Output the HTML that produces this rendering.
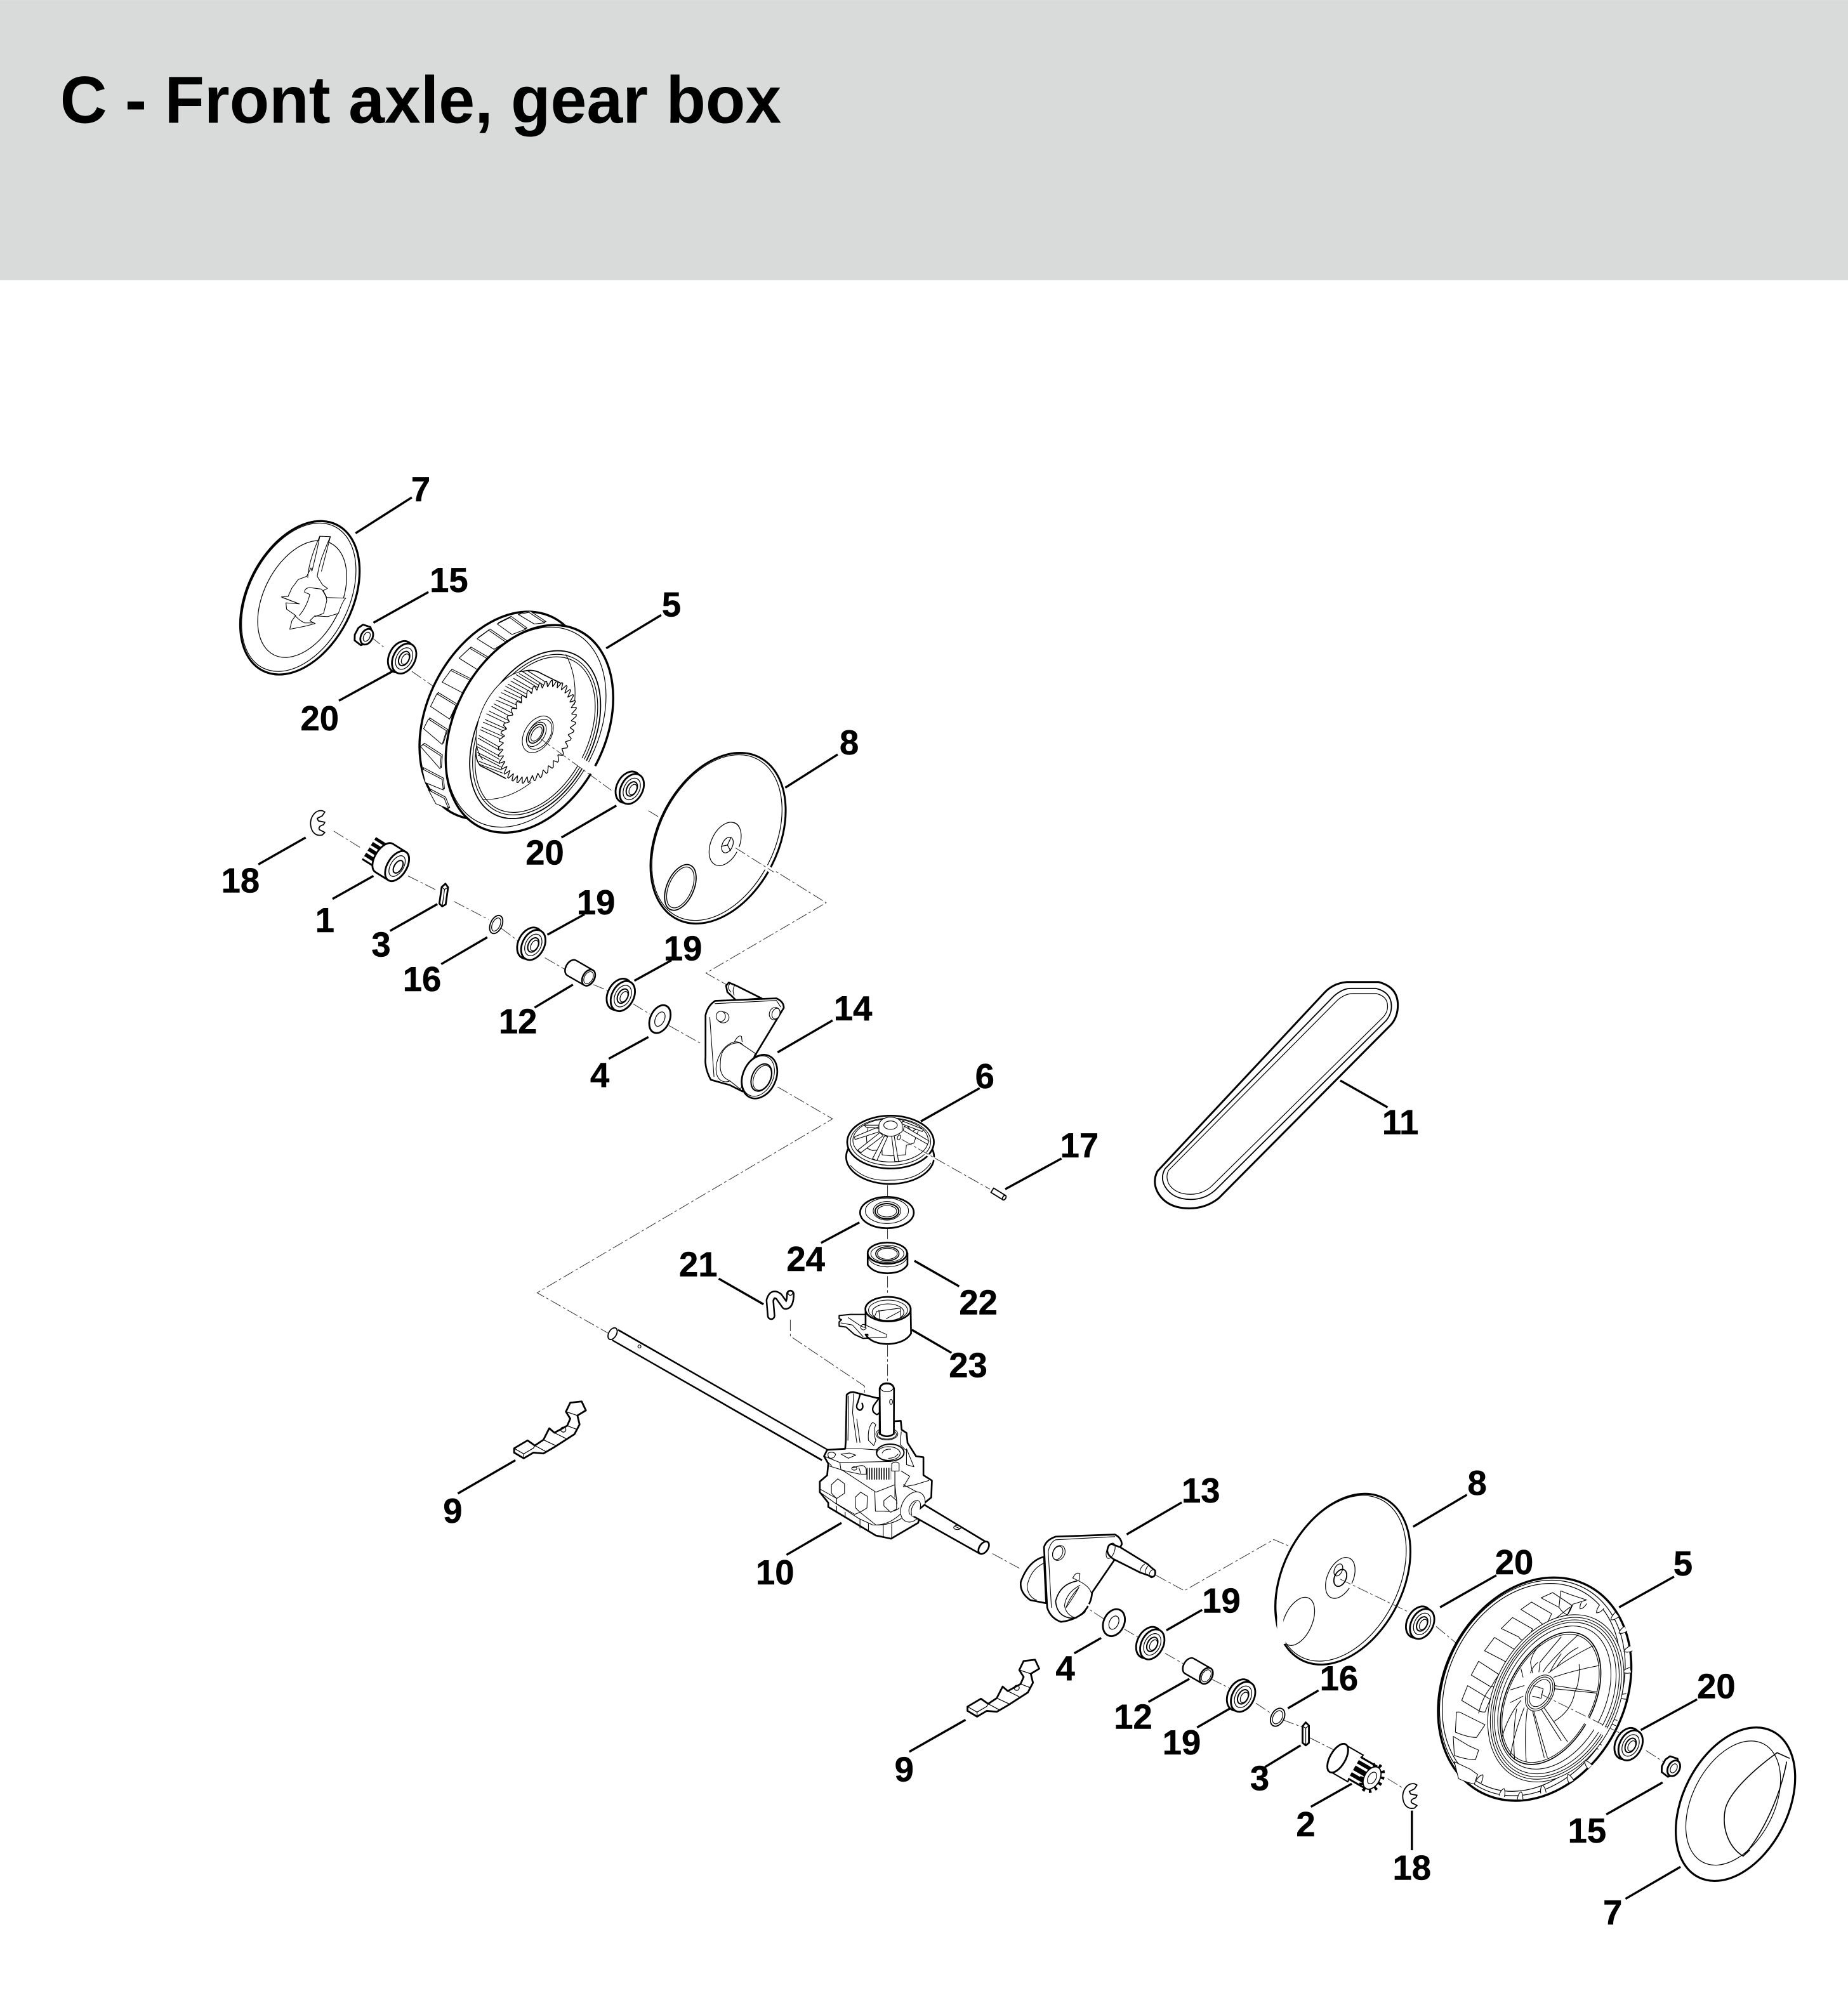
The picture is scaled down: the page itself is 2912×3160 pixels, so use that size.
<!DOCTYPE html>
<html lang="en"><head><meta charset="utf-8"><title>C - Front axle, gear box</title>
<style>
html,body{margin:0;padding:0;background:#fff}
svg{display:block}
.o{fill:#fff;stroke:#000;stroke-width:1.4;stroke-linejoin:round;stroke-linecap:round}
.n{fill:none;stroke:#000;stroke-width:1.4;stroke-linejoin:round;stroke-linecap:round}
.t{fill:none;stroke:#000;stroke-width:.6;stroke-linejoin:round;stroke-linecap:round}
.tw{fill:#fff;stroke:#000;stroke-width:.6;stroke-linejoin:round}
.l{fill:none;stroke:#000;stroke-width:1.7}
.d{fill:none;stroke:#333;stroke-width:.5;stroke-dasharray:9 2 2 2}
.zo{fill:#fff;stroke:#000;stroke-width:8;stroke-linejoin:round;stroke-linecap:round}
.zn{fill:none;stroke:#000;stroke-width:7;stroke-linejoin:round;stroke-linecap:round}
.zt{fill:none;stroke:#000;stroke-width:3.2;stroke-linejoin:round;stroke-linecap:round}
.zw{fill:#fff;stroke:#000;stroke-width:3.2;stroke-linejoin:round;stroke-linecap:round}
.tooth{fill:#fff;stroke:#000;stroke-width:1.3;vector-effect:non-scaling-stroke;stroke-linejoin:round}
text.b{font-family:"Liberation Sans",sans-serif;font-weight:700;font-size:27px;text-anchor:middle;fill:#000;stroke:#000;stroke-width:.25}
</style></head><body>
<svg xmlns="http://www.w3.org/2000/svg" width="2912" height="3160" viewBox="0 0 1445 1568">
<defs>
<g id="brg"><ellipse class="o" cx="-3" rx="9" ry="13"/><ellipse class="o" rx="8.5" ry="12.5"/><ellipse class="t" rx="6" ry="9"/><ellipse class="n" style="stroke-width:1" rx="3.8" ry="6"/><ellipse class="t" cx="1" rx="2.6" ry="4.4"/></g>
<g id="nut"><path class="o" d="M-5 -7L1 -8 4 -5 4 5 1 8 -5 7 -7 3 -7 -3Z"/><ellipse class="o" cx="2" rx="4.5" ry="6.5"/><ellipse class="t" cx="2" rx="2.4" ry="3.8"/></g>
<g id="clip"><path class="t" style="stroke-width:.9" d="M3 -10C-3 -11 -7 -4 -6 2C-5 8 -1 10 3 9L5 7 1 5C0 4 0 2 4 1L5 -1 0 -2 -1 -4 3 -6 5 -9Z"/></g>
<g id="key"><path class="o" d="M-2.5 -6L0 -9 2.5 -6.5 2.5 7 0 9 -2.5 7Z"/><path class="t" d="M-2.5 -6L0 -4.5 2.5 -6.5M0 -4.5L0 9"/></g>
<g id="bush"><path class="o" d="M-9 -8L8 -8A5 8 0 0 1 8 8L-9 8A5 8 0 0 1 -9 -8Z"/><ellipse class="o" cx="8" rx="5" ry="8"/><ellipse class="t" cx="8" rx="3.6" ry="6"/></g>
<g id="lever"><path class="o" d="M756.5 1334.7L756.5 1338 764 1342.5 771.6 1338 779.4 1338.7 788.2 1333.6 803.7 1323.6 807.7 1316 806 1309 812.6 1305 809.3 1298 800.4 1299 797 1306 800.4 1311.5 798 1317 788 1322.5 784 1319 779.4 1328 772.7 1332.5 767 1328.5Z"/><path class="t" d="M756.5 1334.7L764 1339 764 1342.5M764 1339L771.6 1334.5 772.7 1332.5M772.7 1332.5L781 1337M779.4 1328L790 1333M788 1322.5L797 1327M798 1317L806 1320M797 1306L806 1309"/><circle class="t" cx="795" cy="1320" r="2"/></g>
<path id="sc" d="M-12 -18Q-10 10 0 20Q14 10 14 -18" fill="#fff" stroke="#000" stroke-width="3.2"/>
<path id="tt" class="tooth" d="M.927 -.073L1.06 -.018 1.06 .018 .927 .073"/>
<g id="blk">
<path d="M500 55L550 45 625 95 575 100ZM400 100L460 70 535 125 470 150ZM305 170L360 130 440 185 385 220ZM220 262L270 215 355 265 305 315ZM140 375L180 320 270 365 235 425ZM85 490L115 430 205 485 175 550ZM52 595L75 550 160 605 140 670ZM38 680L50 670 135 725 130 785ZM45 785L140 835 145 885 60 850ZM75 885L150 925 170 975 110 950Z"/>
</g>
</defs>
<rect width="1445" height="1568" fill="#fff"/>
<rect width="1445" height="219" fill="#d9dbda"/>
<text x="47" y="96" font-family="Liberation Sans,sans-serif" font-weight="700" font-size="52" textLength="564" lengthAdjust="spacingAndGlyphs" fill="#000">C - Front axle, gear box</text>

<!-- construction lines under parts -->
<path class="d" d="M290 498L300 506M322 525L345 541M507 634L520 642"/>
<path class="d" d="M572 660L646 706 552 761 568 770"/>
<path class="d" d="M261 650L282 663M319 685L341 696M355 705L382 719M392 726L408 738M426 749L445 760M464 770L476 775M495 785L508 793M523 802L548 816"/>
<path class="d" d="M608 850L651 875 420 1011 478 1044"/>
<path class="d" d="M694 927L694 937M694 960L694 970M694 998L694 1012M694 1052L694 1084"/>
<path class="d" d="M618 1032L618 1045 676 1084 676 1112"/>
<path class="d" d="M776 1215L798 1227M904 1232L926 1244 996 1204 1010 1210"/>
<path class="d" d="M843 1253L863 1266M879 1274L891 1281M911 1293L925 1301M947 1313L961 1320M982 1332L994 1340M1003 1345L1019 1351M1024 1359L1048 1371M1085 1391L1098 1399"/>

<!-- cap 7 top -->
<g transform="translate(234.5 467.5) rotate(27)">
<ellipse class="o" rx="41" ry="64" style="stroke-width:1.6"/><ellipse class="t" cx="-1" rx="39" ry="62"/><ellipse class="t" cx="2" rx="30" ry="49"/>
</g>
<g transform="translate(178.6 397) scale(.1654)">
<path class="zw" d="M432 135L482 137Q465 175 440 240 425 290 420 325L445 365 468 382 448 392 465 425 555 428Q540 440 520 500L470 515 408 512 385 535 410 548 365 560 290 575 300 535 318 510 275 480 272 450 335 455 250 422 282 420 300 380 330 340 370 325 390 285 395 300Q420 200 432 135Z"/>
<path class="zt" d="M335 510Q370 470 385 410L360 400Q360 380 385 378L440 385Q465 420 465 440L450 500 410 515M315 510Q330 530 360 545L400 545M432 135Q380 250 375 330M482 137L440 300M255 425L335 455"/>
</g>

<use href="#nut" transform="translate(285 497) rotate(28)"/>
<use href="#brg" transform="translate(316 515) rotate(28)"/>

<!-- wheel 5 top -->
<g transform="translate(414 570) rotate(27)"><ellipse class="o" cx="-23" rx="59" ry="86" style="stroke-width:1.7"/></g>
<g transform="translate(322.6 471.4) scale(.1654)">
<use href="#blk" transform="translate(6 -6)" fill="#fff" stroke="#000" stroke-width="3.2" stroke-linejoin="round"/>
<use href="#blk" fill="#fff" stroke="#000" stroke-width="3.2" stroke-linejoin="round"/>
</g>
<g transform="translate(414 570) rotate(27)">
<ellipse class="o" rx="59" ry="86" style="stroke-width:1.7"/>
<ellipse class="t" cx="-3" rx="56" ry="83"/>
<ellipse class="tw" style="stroke-width:.9" cx="6" cy="2" rx="45" ry="70"/>
<ellipse class="t" cx="6" cy="2" rx="43" ry="67"/>
<ellipse class="t" cx="6" cy="2" rx="41" ry="65"/>
</g>
<g transform="translate(322.6 471.4) scale(.1654)">
<path class="zt" d="M725 245Q780 350 765 480M330 930Q450 935 560 850"/>
<g transform="translate(474 550) rotate(27)"><ellipse class="zw" rx="150" ry="245"/></g>
<path d="M520 325L600 320 700 380 440 830 320 770Z" fill="#fff"/>
<path class="zt" d="M520 325L620 390M490 340L590 400M465 370L565 425M440 395L545 450M420 425L525 475M395 460L500 505M375 490L475 545M350 525L455 575M335 565L440 610M320 600L430 650M310 640L415 700M305 680L410 740M310 720L415 775M320 765L425 805"/>
<path class="zt" d="M545 322L640 382M505 335L605 395M478 358L578 415M452 385L555 440M432 412L535 462M408 445L510 492M385 478L488 530M362 512L465 562M343 552L447 598M327 588L435 635M315 628L420 688M307 668L411 725M307 708L412 760M315 750L420 790"/>
<path d="M300 690Q295 740 320 770L440 830" class="zn" style="stroke-width:5"/>
<path d="M520 325Q570 310 610 335L700 380" class="zn" style="stroke-width:5"/>
<g transform="translate(590 610) rotate(27) scale(150 245)">
<circle r=".94" fill="#fff"/>
<use href="#tt"/><use href="#tt" transform="rotate(9)"/><use href="#tt" transform="rotate(18)"/><use href="#tt" transform="rotate(27)"/><use href="#tt" transform="rotate(36)"/><use href="#tt" transform="rotate(45)"/><use href="#tt" transform="rotate(54)"/><use href="#tt" transform="rotate(63)"/><use href="#tt" transform="rotate(72)"/><use href="#tt" transform="rotate(81)"/><use href="#tt" transform="rotate(90)"/><use href="#tt" transform="rotate(99)"/><use href="#tt" transform="rotate(108)"/><use href="#tt" transform="rotate(117)"/><use href="#tt" transform="rotate(126)"/><use href="#tt" transform="rotate(135)"/><use href="#tt" transform="rotate(144)"/><use href="#tt" transform="rotate(153)"/><use href="#tt" transform="rotate(162)"/><use href="#tt" transform="rotate(171)"/><use href="#tt" transform="rotate(180)"/><use href="#tt" transform="rotate(189)"/><use href="#tt" transform="rotate(198)"/><use href="#tt" transform="rotate(207)"/><use href="#tt" transform="rotate(216)"/><use href="#tt" transform="rotate(225)"/><use href="#tt" transform="rotate(234)"/><use href="#tt" transform="rotate(243)"/><use href="#tt" transform="rotate(252)"/><use href="#tt" transform="rotate(261)"/><use href="#tt" transform="rotate(270)"/><use href="#tt" transform="rotate(279)"/><use href="#tt" transform="rotate(288)"/><use href="#tt" transform="rotate(297)"/><use href="#tt" transform="rotate(306)"/><use href="#tt" transform="rotate(315)"/><use href="#tt" transform="rotate(324)"/><use href="#tt" transform="rotate(333)"/><use href="#tt" transform="rotate(342)"/><use href="#tt" transform="rotate(351)"/>
</g>
<g transform="translate(592 622) rotate(33)">
<ellipse class="zw" rx="62" ry="95"/><ellipse class="zt" cx="6" cy="-4" rx="50" ry="78"/>
<ellipse class="zt" cx="-6" cy="4" rx="38" ry="64"/>
<ellipse class="zn" style="stroke-width:5" cx="-8" cy="2" rx="28" ry="50"/><ellipse class="zt" cx="-6" cy="2" rx="20" ry="38"/>
</g>
</g>
<path d="M452 595L480 612" stroke="#fff" stroke-width="7" fill="none"/>
<path class="d" d="M423 578L478 618"/>
<use href="#brg" transform="translate(494 617) rotate(28)"/>

<!-- plate 8 top -->
<g transform="translate(561.5 655.5) rotate(27)">
<ellipse class="o" rx="47" ry="71" style="stroke-width:1.5"/>
<ellipse class="t" cx="-1" rx="45" ry="69"/>
</g>
<g transform="translate(567 660) rotate(25)"><ellipse class="t" rx="11" ry="18"/><path class="t" d="M-1 -18A11 18 0 0 1 4 -17"/><ellipse class="t" cx="2" rx="4" ry="6.5"/><path class="t" d="M2 -6.5L2 0 6 3M2 0L-2 3"/></g>
<g transform="translate(532 694) rotate(24)"><ellipse class="t" style="stroke-width:.9" rx="10.5" ry="19"/><ellipse class="t" rx="9" ry="17"/></g>
<path d="M575 663L605 682" stroke="#fff" stroke-width="4" fill="none"/>
<path class="d" d="M575 663L605 682"/>

<!-- small parts top axis -->
<use href="#clip" transform="translate(249 644)"/>
<g transform="translate(302 672) rotate(32)">
<line x1="-16" x2="-2" y1="0" y2="0" stroke="#000" stroke-width="21"/>
<path fill="none" stroke="#fff" stroke-width="2" d="M-16 -7L-2 -7M-16 -2L-2 -2M-16 3L-2 3M-16 8L-2 8"/>
<path class="o" d="M-2 -13L10 -13A7.5 13 0 0 1 10 13L-2 13A7 13 0 0 1 -2 -13Z"/>
<ellipse class="o" cx="10" rx="7.5" ry="13"/><ellipse class="t" cx="10" rx="5" ry="9"/><ellipse class="n" style="stroke-width:1" cx="11" rx="3" ry="5.5"/>
</g>
<use href="#key" transform="translate(347 700) rotate(8)"/>
<ellipse class="t" style="stroke-width:.9" cx="388" cy="723" rx="4.5" ry="7.5" transform="rotate(25 388 723)"/>
<ellipse class="t" cx="388" cy="723" rx="3" ry="5.5" transform="rotate(25 388 723)"/>
<use href="#brg" transform="translate(417 739) rotate(28)"/>
<use href="#bush" transform="translate(454 761) rotate(30) scale(.9 .85)"/>
<use href="#brg" transform="translate(487 779) rotate(28)"/>
<g transform="translate(516 797) rotate(25)"><ellipse class="o" rx="7.5" ry="11.5"/><ellipse class="t" rx="3.5" ry="6"/></g>

<!-- bracket 14 -->
<g transform="translate(531 754.3) scale(.1654)">
<path class="zo" d="M222 100L235 85 270 100 390 160 270 170 250 150 228 130Z"/>
<path class="zt" d="M240 90Q225 110 245 130M262 100Q250 120 260 145"/>
<path class="zo" d="M125 240Q135 195 170 172L460 160Q495 175 495 205L365 420 300 600 240 570 150 545Q120 490 125 440Z"/>
<path class="zt" d="M170 185L460 170 480 200M145 250L165 530"/>
<ellipse class="zw" cx="208" cy="250" rx="28" ry="26"/><ellipse class="zw" cx="197" cy="245" rx="22" ry="24"/>
<ellipse class="zw" cx="452" cy="232" rx="25" ry="30" transform="rotate(20 452 232)"/><ellipse class="zt" cx="458" cy="232" rx="18" ry="26" transform="rotate(20 458 232)"/>
<path class="zt" d="M262 365Q280 330 295 340L298 365"/>
<ellipse class="zt" cx="245" cy="460" rx="62" ry="100" transform="rotate(25 245 460)"/>
<path class="zw" d="M215 400Q240 370 285 370L360 420 290 590 240 550Q190 530 195 470 195 420 215 400Z"/>
<g transform="translate(380 530) rotate(25)"><ellipse class="zo" rx="78" ry="108"/><ellipse class="zt" cx="-6" rx="70" ry="100"/><ellipse class="zn" style="stroke-width:6" cx="10" rx="44" ry="68"/><ellipse class="zt" cx="14" rx="38" ry="62"/></g>
</g>

<!-- pulley 6 and parts -->
<g transform="translate(640.1 863.4) scale(.1654)">
<ellipse class="zo" cx="338" cy="250" rx="208" ry="128"/>
<path class="zt" d="M150 290Q220 368 340 360 470 362 530 280"/>
<ellipse class="zo" cx="340" cy="180" rx="205" ry="125"/>
<ellipse class="zt" cx="340" cy="178" rx="190" ry="112"/>
<ellipse class="zt" cx="340" cy="172" rx="178" ry="102"/>
<path class="zt" d="M225 140L230 210 255 220 300 215 300 240 340 245 410 240 415 195 450 185M170 160L230 140 235 100M400 80L440 130 480 110M450 185L470 130"/>
<path class="zw" d="M290 105L170 155 172 168 290 130ZM290 135L185 218 200 230 305 150ZM312 150L255 258 275 268 326 155ZM345 150L360 272 378 272 357 150ZM400 125L515 190 522 175 405 105ZM395 95L490 130 495 120 395 80ZM290 100L215 100 225 110 290 115Z"/>
<path class="zw" d="M285 100A55 38 0 0 1 395 100L395 130Q340 175 285 130Z"/>
<ellipse class="zt" cx="340" cy="100" rx="32" ry="20"/>
<ellipse class="zt" cx="380" cy="158" rx="7" ry="12" transform="rotate(20 380 158)"/>
<path d="M498 230L552 262" stroke="#fff" stroke-width="12" fill="none"/>
<ellipse class="zo" cx="323" cy="513" rx="127" ry="74"/><ellipse class="zt" cx="323" cy="505" rx="102" ry="60"/><ellipse class="zt" cx="323" cy="505" rx="65" ry="44"/><ellipse class="zn" style="stroke-width:6" cx="323" cy="507" rx="56" ry="36"/><ellipse class="zt" cx="323" cy="507" rx="46" ry="27"/>
<path class="zo" d="M232 705L232 760Q260 800 325 800 395 800 420 760L420 705Z"/>
<ellipse class="zo" cx="325" cy="705" rx="93" ry="50"/><ellipse class="zt" cx="325" cy="708" rx="78" ry="40"/><ellipse class="zn" style="stroke-width:5" cx="325" cy="708" rx="55" ry="33"/><ellipse class="zt" cx="325" cy="708" rx="47" ry="26"/>
<path class="zt" d="M232 722Q250 768 325 770 400 768 420 725"/>
<path class="zo" d="M97 1000L150 995 222 995 225 1045 322 1090 322 1102 210 1108 170 1090 130 1055 97 1050 97 1030 108 1020 97 1015Z" style="stroke-width:6"/>
<path class="zt" d="M140 1010L200 1050 320 1095M105 1035L160 1045 210 1100"/>
<circle class="zt" cx="212" cy="1055" r="13"/>
<path class="zo" d="M222 965L222 1050 300 1092 222 1090Q250 1135 330 1135 410 1130 437 1085L435 965Z"/>
<path class="zo" d="M222 1045L322 1090 322 1102 240 1106" style="stroke-width:3.2"/>
<ellipse class="zo" cx="328" cy="970" rx="107" ry="58"/><ellipse class="zt" cx="328" cy="975" rx="92" ry="48"/><ellipse class="zt" cx="328" cy="985" rx="75" ry="40"/>
<path class="zt" d="M262 1010L275 980 385 965 390 1010 350 1025 290 1025ZM285 975L290 1025M385 980L320 1015"/>
</g>
<path class="d" d="M705 891L774 930"/>
<g transform="translate(781 934) rotate(32)"><rect x="-6" y="-2" width="11" height="4" class="o" style="stroke-width:.9"/><ellipse class="o" style="stroke-width:.9" cx="5" rx="1.2" ry="2"/></g>

<!-- hose 21 -->
<path fill="none" stroke="#000" stroke-width="6.5" stroke-linecap="round" stroke-linejoin="round" d="M603 1029L602 1017Q604 1010 609 1014L614 1021Q618 1021 618 1012"/>
<path fill="none" stroke="#fff" stroke-width="4" stroke-linecap="round" stroke-linejoin="round" d="M603 1029L602 1017Q604 1010 609 1014L614 1021Q618 1021 618 1012"/>
<ellipse class="t" cx="618" cy="1011" rx="1.8" ry="2"/>

<!-- belt 11 -->
<path class="o" style="stroke-width:1.5" d="M1035 777Q1042 769 1053 768L1078 768Q1093 772 1093 786Q1093 795 1088 801L953 937Q943 945 930 945Q912 945 905 932Q901 924 905 916Z"/>
<path class="t" style="stroke-width:.9" d="M1043 779Q1050 773 1056 773L1076 773Q1088 776 1088 787Q1088 793 1084 798L950 931Q942 938 931 938Q917 938 911 928Q907 921 911 914Z"/>
<path class="t" d="M1046 782Q1052 777 1058 777L1076 777Q1085 779 1085 787Q1085 792 1081 796L947 928Q940 934 931 934Q919 934 914 926Q911 920 914 915Z"/>

<!-- main shaft -->
<line x1="481" y1="1044" x2="645" y2="1138" stroke="#000" stroke-width="10.5"/>
<line x1="480" y1="1043.5" x2="647" y2="1139" stroke="#fff" stroke-width="8"/>
<ellipse class="o" style="stroke-width:.9" cx="479" cy="1043" rx="3" ry="5" transform="rotate(30 479 1043)"/>
<circle cx="500" cy="1053" r="1.2" class="t"/>

<!-- gearbox -->
<g transform="translate(625.3 1076.8) scale(.1654)">
<path class="zo" d="M222 85Q235 70 255 72L365 100 378 100 378 270 445 250 445 210 478 208 482 250 505 265 510 312 550 375 585 380 585 465 625 490 622 570 585 600 560 690 432 765 360 750 135 615 135 595 95 545 95 495 130 465 135 410 115 375 130 345 215 340 218 300Z"/>
<path class="zt" d="M232 90L228 300M250 170L270 310M250 170L255 80M285 310L270 200"/>
<path class="zn" d="M285 85L275 120Q260 150 285 158 305 150 295 125M372 105L350 135Q335 165 365 178 385 170 378 150"/>
<ellipse class="zt" cx="412" cy="270" rx="52" ry="28"/><ellipse class="zt" cx="412" cy="272" rx="45" ry="22"/>
<path class="zw" d="M345 215Q320 240 325 300L350 325 360 300Q345 260 360 225Z"/>
<path class="zt" d="M115 375L190 405 430 400M215 340L290 340 360 345 400 320M195 365L230 385 265 370 235 360ZM135 420L200 440 360 545 450 510 450 410M190 405L195 440 285 460M355 545L358 635 400 635Q450 640 470 620M450 510L460 600M130 400L150 420M135 360Q155 350 170 365 165 385 145 385 130 380 135 360Z"/>
<ellipse class="zn" style="stroke-width:6" cx="428" cy="358" rx="65" ry="40"/><ellipse class="zt" cx="420" cy="362" rx="55" ry="32"/><path class="zt" d="M390 360Q400 340 430 342M420 385Q450 385 465 365"/>
<path class="zw" d="M435 410Q455 395 470 410L470 445 435 445Z"/>
<path class="zt" d="M450 445L450 570"/>
<line x1="316" y1="458" x2="432" y2="458" stroke="#000" stroke-width="55" stroke-dasharray="4.5 7"/>
<path class="zt" d="M285 420Q310 415 315 440L315 460 290 460 280 430M250 430L285 420"/>
<ellipse class="zt" cx="258" cy="433" rx="12" ry="8"/>
<path class="zw" d="M150 510L180 482 212 505 212 550 175 575 150 550ZM262 570L288 545 320 565 318 620 285 640 265 620ZM398 585L430 560 458 585 458 625 430 640 398 610Z"/>
<path class="zt" d="M95 530L175 575 175 600 260 650 285 640 360 700Q420 700 475 650M95 545L165 595 280 670 345 700Q420 705 480 670M175 612L175 640M215 640L215 665M285 675L285 715M325 695L325 730M395 700L395 760M435 695L435 765M505 340L540 425 505 415ZM480 260L475 320 500 345M480 445L520 470 490 520 545 510 610 490M490 510L585 560"/>
<g transform="translate(535 615) rotate(28)"><ellipse class="zw" rx="52" ry="76"/><ellipse class="zt" cx="10" rx="24" ry="38"/></g>
<path class="zo" d="M590 605L880 780 850 835 530 655Z"/>
<ellipse cx="545" cy="630" rx="20" ry="32" transform="rotate(30 545 630)" fill="#fff"/>
<path class="zt" d="M530 655Q520 620 550 590"/>
<ellipse class="zo" cx="870" cy="808" rx="20" ry="33" transform="rotate(35 870 808)"/>
<ellipse class="zt" cx="745" cy="712" rx="17" ry="10"/><path class="zt" d="M732 706L758 718"/>
<path class="zo" d="M378 55Q385 30 412 30 440 30 446 55L445 270Q412 292 380 270Z"/>
<ellipse class="zt" cx="412" cy="52" rx="30" ry="18"/>
<ellipse class="zt" cx="432" cy="118" rx="7" ry="12"/>
</g>

<!-- levers -->
<use href="#lever" transform="translate(-354.5 -202)"/>
<use href="#lever"/>

<!-- bracket 13 -->
<g transform="translate(794 1176.1) scale(.1654)">
<path class="zo" d="M135 250Q60 270 25 370 20 420 70 455L145 470Z"/>
<path class="zt" d="M135 280Q70 310 55 390 60 440 100 455"/>
<path class="zo" d="M135 205Q145 170 190 155L470 145Q500 160 503 190L468 265 362 420Q360 470 320 515 280 550 215 558 165 540 150 490Z"/>
<path class="zt" d="M190 170Q165 180 155 225L170 490M190 170L470 155"/>
<ellipse class="zw" cx="205" cy="232" rx="28" ry="37" transform="rotate(25 205 232)"/>
<ellipse class="zt" cx="200" cy="232" rx="22" ry="33" transform="rotate(25 200 232)"/>
<path class="zn" style="stroke-width:5" d="M290 365Q210 380 190 460 195 530 260 540 300 540 330 510"/>
<path class="zt" d="M305 385Q240 420 232 480 240 530 290 540M270 350L300 365Q350 390 358 420M272 350Q285 320 305 330L300 365M300 395Q250 450 240 490 275 440 300 395"/>
<path d="M330 470L365 490" stroke="#fff" stroke-width="10"/>
<path class="zo" d="M455 190L495 205 625 285Q640 300 660 315 665 345 645 345L620 335 590 325 465 262Q430 240 435 215 440 190 455 190Z"/>
<ellipse class="zt" cx="450" cy="222" rx="18" ry="38" transform="rotate(20 450 222)"/>
<path class="zt" d="M610 285Q585 305 590 325M625 295Q610 315 615 335"/>
<ellipse class="zt" cx="648" cy="330" rx="14" ry="20" transform="rotate(25 648 330)"/>
</g>

<!-- plate 8 bottom -->
<g transform="translate(1050 1235) rotate(27)">
<ellipse class="o" rx="47" ry="71" style="stroke-width:1.5"/>
<ellipse class="t" cx="-1.5" rx="45" ry="69"/>
</g>
<g transform="translate(1048 1234) rotate(25)"><ellipse class="t" rx="10" ry="17"/><ellipse class="n" style="stroke-width:.9" rx="4.5" ry="7"/><ellipse class="t" cx="-4" cy="-5" rx="3" ry="5"/></g>
<g transform="translate(1015 1268) rotate(24)"><ellipse class="t" rx="11" ry="20"/></g>
<path fill="none" stroke="#fff" stroke-width="5" d="M1003 1250Q999 1270 1003 1286"/>
<path d="M1052 1238L1086 1256" stroke="#fff" stroke-width="4" fill="none"/>
<path class="d" d="M1048 1235L1100 1260M1123 1272L1141 1287"/>
<use href="#brg" transform="translate(1112 1270) rotate(28)"/>

<!-- wheel 5 bottom -->
<g transform="translate(1200 1321) rotate(27)">
<ellipse class="o" rx="71" ry="91" style="stroke-width:1.7"/>
<ellipse class="t" cx="-2" rx="68" ry="88"/>
<ellipse class="t" cx="-3" rx="65" ry="85"/>
</g>
<g transform="translate(1141.3 1230.6) scale(.1654)">
<use href="#sc" transform="translate(580 150) rotate(31)"/><use href="#sc" transform="translate(660 170) rotate(39)"/><use href="#sc" transform="translate(730 205) rotate(48)"/><use href="#sc" transform="translate(770 270) rotate(56)"/><use href="#sc" transform="translate(795 360) rotate(66)"/><use href="#sc" transform="translate(790 460) rotate(76)"/><use href="#sc" transform="translate(770 580) rotate(91)"/><use href="#sc" transform="translate(725 700) rotate(108)"/><use href="#sc" transform="translate(650 810) rotate(127)"/><use href="#sc" transform="translate(606 900) rotate(140)"/><use href="#sc" transform="translate(521 967) rotate(154)"/><use href="#sc" transform="translate(395 1020) rotate(172)"/><use href="#sc" transform="translate(289 1051) rotate(185)"/><use href="#sc" transform="translate(205 1036) rotate(195)"/><use href="#sc" transform="translate(100 969) rotate(210)"/>
<path class="zw" d="M478 82L525 100 600 125 535 145Q525 175 510 195 490 190 470 160ZM385 115L440 90 530 150 510 195Q490 190 470 160Z"/>
<path class="zw" d="M290 170L340 135 435 190 410 245Q385 240 375 222ZM197 260L250 208 345 262 320 320Q290 320 280 300ZM118 365L165 302 258 358 240 415Q215 420 205 410ZM55 480L90 415 190 480 165 535Q140 535 130 525ZM10 600L38 530 145 595 120 655Q95 655 85 645ZM-15 655L0 655 120 715 80 775Q40 775 -20 750ZM-30 770L45 815 90 835 75 880Q30 880 -25 860ZM-25 890L50 925 85 950 70 995Q40 990 -5 970Z"/>
<path class="zt" d="M90 660Q110 580 150 535 180 480 230 420 280 340 330 320 380 250 420 240 470 200 520 160"/>
<g transform="translate(455 590) rotate(27)">
<ellipse class="zw" rx="292" ry="418"/><ellipse class="zt" rx="280" ry="405"/><ellipse class="zt" rx="270" ry="393"/><ellipse class="zt" cx="-3" rx="258" ry="380"/><ellipse class="zt" cx="-8" rx="238" ry="360"/>
</g>
<g transform="translate(430 590) rotate(27)"><ellipse class="zw" style="stroke-width:5" rx="205" ry="335"/><ellipse class="zt" rx="198" ry="325"/></g>
<path class="zt" d="M420 470Q520 395 635 340M445 490Q550 455 660 435M450 530L650 560M450 545L645 565M400 635L510 795M385 640L480 790M350 650L415 870M345 650L400 870M320 640Q305 750 315 890M305 635Q260 750 240 860M290 600Q230 670 200 775M300 580L240 610M305 530L240 550M300 490L290 450M345 470L335 420Q345 370 380 340M375 465L380 420Q420 370 480 300M395 465Q420 420 560 290M565 430Q570 510 545 560 530 650 445 700M335 470Q345 440 370 420M270 640Q250 740 260 880M480 380Q450 420 430 460M560 350Q500 380 460 440"/>
<g transform="translate(380 565) rotate(30)"><ellipse class="zw" rx="60" ry="92"/><ellipse class="zt" rx="52" ry="82"/><ellipse class="zt" rx="42" ry="70"/></g>
<path class="zt" d="M350 530L395 545 385 590M345 580L385 590"/>
</g>
<path d="M1240 1345L1256 1355" stroke="#fff" stroke-width="6" fill="none"/>
<path class="d" d="M1205 1325L1266 1355"/>
<use href="#brg" transform="translate(1275 1365) rotate(28)"/>
<path class="d" d="M1287 1369L1301 1378"/>
<use href="#nut" transform="translate(1307 1382) rotate(28)"/>

<!-- cap 7 bottom -->
<g transform="translate(1357 1411) rotate(27)"><ellipse class="o" rx="41" ry="64" style="stroke-width:1.6"/><ellipse class="t" cx="-2" rx="32" ry="52"/></g>
<path class="t" style="stroke-width:.8" d="M1389.6 1370.7L1399 1375M1389.6 1370.7C1370 1385 1352 1402 1349 1415C1346 1430 1352 1445 1363 1451.6C1378 1435 1392 1405 1397 1378M1363 1451.6L1368 1447"/>

<!-- small parts bottom axis -->
<use href="#brg" transform="translate(901 1286) rotate(28)"/>
<g transform="translate(871 1269) rotate(25)"><ellipse class="o" rx="8" ry="11"/><ellipse class="t" rx="3.5" ry="5.5"/></g>
<use href="#bush" transform="translate(937 1307) rotate(30) scale(.9 .85)"/>
<use href="#brg" transform="translate(972 1327) rotate(28)"/>
<ellipse class="t" style="stroke-width:.9" cx="999" cy="1343" rx="5" ry="7.5" transform="rotate(28 999 1343)"/>
<ellipse class="t" cx="999" cy="1343" rx="3.5" ry="5.5" transform="rotate(28 999 1343)"/>
<use href="#key" transform="translate(1021 1356)"/>
<g transform="translate(1046 1375) rotate(30)">
<rect x="0" y="-12" width="16" height="24" fill="#fff" stroke="#000" stroke-width="1"/>
<line x1="15" x2="30" y1="0" y2="0" stroke="#000" stroke-width="21"/>
<path fill="none" stroke="#fff" stroke-width="2" d="M15 -8L30 -8M15 -3L30 -3M15 3L30 3M15 8L30 8"/>
<ellipse class="o" rx="6" ry="12.5"/>
<ellipse cx="31" rx="7" ry="10.5" fill="none" stroke="#000" stroke-width="4" pathLength="60" stroke-dasharray="2 3"/>
<ellipse class="o" style="stroke-width:.9" cx="31" rx="6" ry="9.5"/><ellipse class="t" cx="31" rx="3" ry="5"/>
</g>
<use href="#clip" transform="translate(1103 1405)"/>

<!-- leaders -->
<path class="l" d="M278 417L322 389M292 487L335 463M474 507L517 481M307 525L265 548M614 616L655 590M482 630L439 655M239 655L202 676M292 685L260 703M342 707L305 728M381 733L345 754M428 731L457 715M496 767L525 751M448 770L418 788M507 811L476 828M608 823L651 798M720 877L766 851M786 930L830 906M1048 845L1085 866M672 956L642 972M715 986L750 1006M713 1040L744 1058M562 1000L597 1020M881 1200L924 1175M658 1191L615 1216M755 1345L711 1370M403 1142L358 1168M930 1313L898 1331M861 1281L840 1293M1105 1194L1147 1169M1126 1257L1170 1232M1266 1257L1309 1233M912 1275L940 1259M1007 1336L1031 1322M936 1351L962 1336M989 1382L1017 1365M1025 1413L1057 1395M1104 1416L1104 1447M1283 1353L1327 1329M1300 1394L1256 1419M1314 1460L1271 1485"/>

<!-- labels -->
<text class="b" x="329" y="392">7</text>
<text class="b" x="351" y="463">15</text>
<text class="b" x="525" y="482">5</text>
<text class="b" x="250" y="571">20</text>
<text class="b" x="664" y="590">8</text>
<text class="b" x="426" y="676">20</text>
<text class="b" x="188" y="698">18</text>
<text class="b" x="254" y="729">1</text>
<text class="b" x="298" y="748">3</text>
<text class="b" x="466" y="715">19</text>
<text class="b" x="330" y="775">16</text>
<text class="b" x="534" y="751">19</text>
<text class="b" x="405" y="808">12</text>
<text class="b" x="667" y="798">14</text>
<text class="b" x="469" y="850">4</text>
<text class="b" x="770" y="851">6</text>
<text class="b" x="844" y="905">17</text>
<text class="b" x="1095" y="887">11</text>
<text class="b" x="630" y="994">24</text>
<text class="b" x="546" y="998">21</text>
<text class="b" x="765" y="1028">22</text>
<text class="b" x="757" y="1077">23</text>
<text class="b" x="354" y="1191">9</text>
<text class="b" x="939" y="1175">13</text>
<text class="b" x="1155" y="1169">8</text>
<text class="b" x="606" y="1239">10</text>
<text class="b" x="1184" y="1231">20</text>
<text class="b" x="1316" y="1232">5</text>
<text class="b" x="955" y="1261">19</text>
<text class="b" x="833" y="1314">4</text>
<text class="b" x="1047" y="1322">16</text>
<text class="b" x="886" y="1352">12</text>
<text class="b" x="1342" y="1328">20</text>
<text class="b" x="924" y="1372">19</text>
<text class="b" x="707" y="1393">9</text>
<text class="b" x="985" y="1400">3</text>
<text class="b" x="1021" y="1436">2</text>
<text class="b" x="1241" y="1441">15</text>
<text class="b" x="1104" y="1470">18</text>
<text class="b" x="1261" y="1505">7</text>
</svg>
</body></html>
